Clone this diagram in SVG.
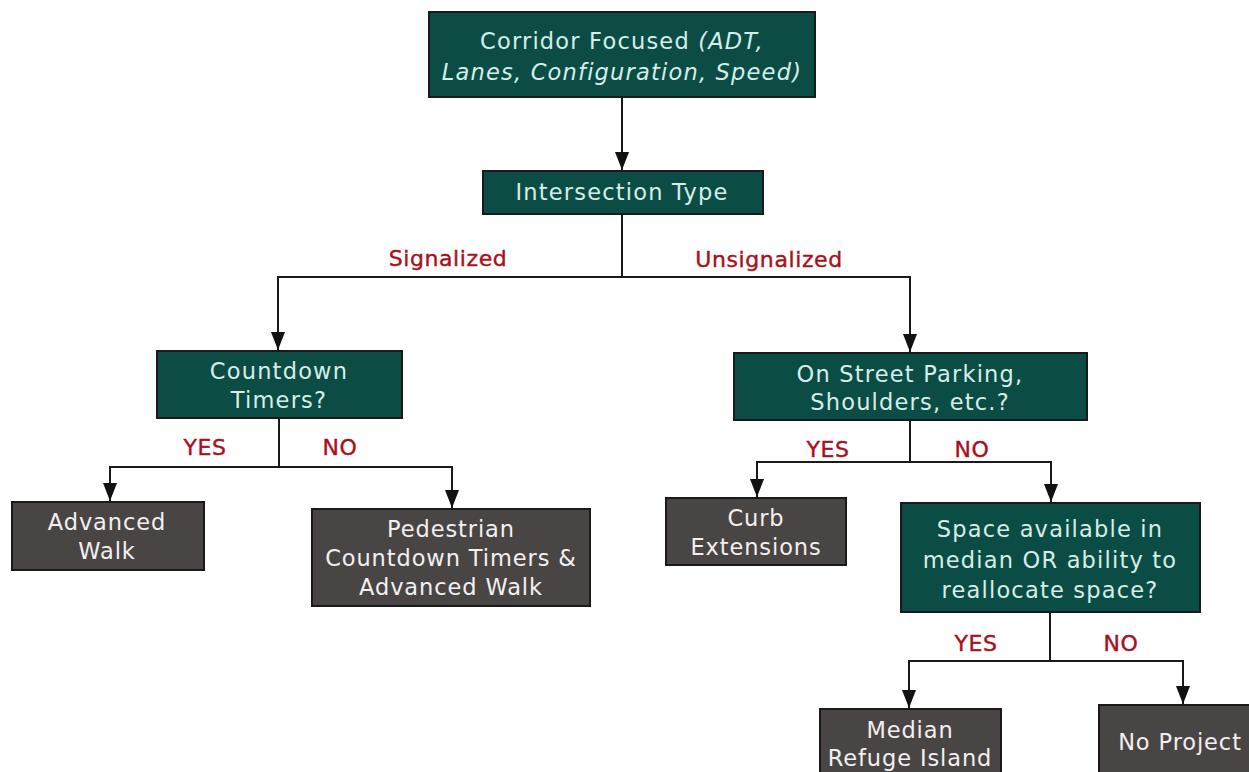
<svg xmlns="http://www.w3.org/2000/svg" width="1249" height="772" viewBox="0 0 1249 772">
<defs>
<marker id="ah" markerWidth="18" markerHeight="14" refX="18" refY="7" orient="auto" markerUnits="userSpaceOnUse" viewBox="0 0 18 14">
<path d="M0,0 L18,7 L0,14 Z" fill="#111"/>
</marker>
<style>
.q{fill:#0b4d44;stroke:#1a1a1a;stroke-width:2}
.r{fill:#4a4545;stroke:#1a1a1a;stroke-width:2}
.tq{font-family:"DejaVu Sans",Verdana,sans-serif;font-size:22.5px;letter-spacing:1.2px;fill:#d6eeea;text-anchor:middle}
.tr{font-family:"DejaVu Sans",Verdana,sans-serif;font-size:22.5px;letter-spacing:0.9px;fill:#f2f0f0;text-anchor:middle}
.lb{font-family:"DejaVu Sans",Verdana,sans-serif;font-size:22px;letter-spacing:0.6px;fill:#a8101c;text-anchor:middle;stroke:#a8101c;stroke-width:0.4}
.c{fill:none;stroke:#1a1a1a;stroke-width:2}
</style>
</defs>
<rect width="1249" height="772" fill="#ffffff"/>
<g id="connectors">
<path class="c" d="M622,97 V170" marker-end="url(#ah)"/>
<path class="c" d="M622,214 V277 H278 V350" marker-end="url(#ah)"/>
<path class="c" d="M622,277 H910 V352" marker-end="url(#ah)"/>
<path class="c" d="M279,418 V467 H110 V501" marker-end="url(#ah)"/>
<path class="c" d="M279,467 H452 V508" marker-end="url(#ah)"/>
<path class="c" d="M910,420 V462 H757 V497" marker-end="url(#ah)"/>
<path class="c" d="M910,462 H1051 V502" marker-end="url(#ah)"/>
<path class="c" d="M1050,612 V661 H909 V708" marker-end="url(#ah)"/>
<path class="c" d="M1050,661 H1183 V704" marker-end="url(#ah)"/>
<text class="lb" x="448" y="266">Signalized</text>
<text class="lb" x="769" y="267">Unsignalized</text>
<text class="lb" x="205" y="455">YES</text>
<text class="lb" x="340" y="455">NO</text>
<text class="lb" x="828" y="457">YES</text>
<text class="lb" x="972" y="457">NO</text>
<text class="lb" x="976" y="651">YES</text>
<text class="lb" x="1121" y="651">NO</text>
</g>
<g id="corridor">
<rect class="q" x="429" y="12" width="386" height="85"/>
<text class="tq" x="622" y="49">Corridor Focused <tspan font-style="italic">(ADT,</tspan></text>
<text class="tq" x="622" y="80" font-style="italic" letter-spacing="0.9px">Lanes, Configuration, Speed)</text>
</g>
<g id="intersection">
<rect class="q" x="483" y="171" width="280" height="43"/>
<text class="tq" x="622" y="200">Intersection Type</text>
</g>
<g id="countdown">
<rect class="q" x="157" y="351" width="245" height="67"/>
<text class="tq" x="279" y="379">Countdown</text>
<text class="tq" x="279" y="408">Timers?</text>
</g>
<g id="advanced-walk">
<rect class="r" x="12" y="502" width="192" height="68"/>
<text class="tr" x="107" y="530">Advanced</text>
<text class="tr" x="107" y="559">Walk</text>
</g>
<g id="pedestrian">
<rect class="r" x="312" y="509" width="278" height="97"/>
<text class="tr" x="451" y="537">Pedestrian</text>
<text class="tr" x="451" y="566">Countdown Timers &amp;</text>
<text class="tr" x="451" y="595">Advanced Walk</text>
</g>
<g id="on-street">
<rect class="q" x="734" y="353" width="353" height="67"/>
<text class="tq" x="910" y="382">On Street Parking,</text>
<text class="tq" x="910" y="410">Shoulders, etc.?</text>
</g>
<g id="curb">
<rect class="r" x="666" y="498" width="180" height="67"/>
<text class="tr" x="756" y="526">Curb</text>
<text class="tr" x="756" y="555">Extensions</text>
</g>
<g id="space">
<rect class="q" x="901" y="503" width="299" height="109"/>
<text class="tq" x="1050" y="537" letter-spacing="0.9px">Space available in</text>
<text class="tq" x="1050" y="568" letter-spacing="0.9px">median OR ability to</text>
<text class="tq" x="1050" y="598" letter-spacing="0.9px">reallocate space?</text>
</g>
<g id="median">
<rect class="r" x="820" y="709" width="181" height="70"/>
<text class="tr" x="910" y="738">Median</text>
<text class="tr" x="910" y="766">Refuge Island</text>
</g>
<g id="no-project">
<rect class="r" x="1099" y="705" width="160" height="75"/>
<text class="tr" x="1180" y="750">No Project</text>
</g>
</svg>
